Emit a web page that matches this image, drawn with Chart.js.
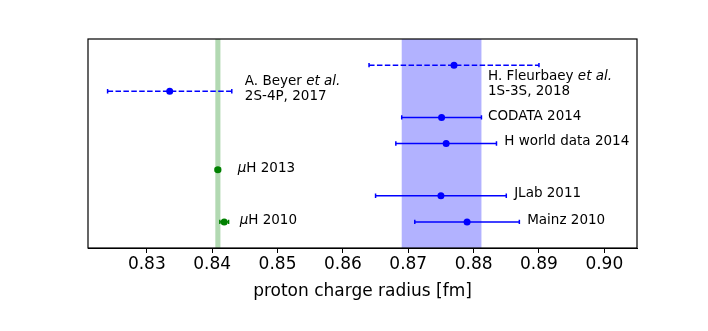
<!DOCTYPE html>
<html>
<head>
<meta charset="utf-8">
<script src="https://cdn.jsdelivr.net/npm/chart.js@4.4.0/dist/chart.umd.min.js"></script>
<style>
html, body { margin: 0; padding: 0; background: #fff; }
</style>
</head>
<body>
<canvas id="radiusChart" width="708" height="331"></canvas>
<script>
// measurements (bottom row first); *...* marks italic text
var names = ['Mainz 2010', '*μ*H 2010', 'JLab 2011', '*μ*H 2013', 'H world data 2014',
  'CODATA 2014', 'A. Beyer *et al.*\n2S-4P, 2017', 'H. Fleurbaey *et al.*\n1S-3S, 2018'];
var radius = [0.879, 0.84184, 0.875, 0.84087, 0.8758, 0.8751, 0.8335, 0.877];
var errors = [0.008, 0.00067, 0.010, 0.00039, 0.0077, 0.0061, 0.0095, 0.013];
var rows = [1, 1, 2, 3, 4, 5, 6, 7];
var muonic = [false, true, false, true, false, false, false, false];
var dashed = [false, false, false, false, false, false, true, true];
// where the text labels sit (data units)
var labelX = [0.8882, 0.8442, 0.8862, 0.8439, 0.8847, 0.8822, 0.845, 0.8822];
var labelY = [1.07, 1.07, 2.07, 3.06, 4.06, 5.05, 6.09, 6.28];
// shaded bands: muonic hydrogen and CODATA 2014
var bandCenter = [0.84087, 0.8751];
var bandHalf = [0.00039, 0.0061];
var tickVals = [0.83, 0.84, 0.85, 0.86, 0.87, 0.88, 0.89, 0.90];

var FONT = "'DejaVu Sans', sans-serif";
var BLUE = '#0000ff', GREEN = '#008000';
var bandColors = ['rgba(0,128,0,0.3)', 'rgba(0,0,255,0.3)'];

function colorOf(i) { return muonic[i] ? GREEN : BLUE; }

function drawRich(ctx, text, x, y) {
  var parts = text.split('*');
  for (var k = 0; k < parts.length; k++) {
    ctx.font = (k % 2 ? 'italic ' : '') + '13.5px ' + FONT;
    ctx.fillText(parts[k], x, y);
    x += ctx.measureText(parts[k]).width;
  }
}

var errorBars = {
  id: 'errorBars',
  beforeDatasetsDraw: function(chart) {
    var ctx = chart.ctx, xs = chart.scales.x, ys = chart.scales.y, a = chart.chartArea;
    ctx.save();
    for (var b = 0; b < bandCenter.length; b++) {
      var l = xs.getPixelForValue(bandCenter[b] - bandHalf[b]);
      var r = xs.getPixelForValue(bandCenter[b] + bandHalf[b]);
      ctx.fillStyle = bandColors[b];
      ctx.fillRect(l, a.top, r - l, a.bottom - a.top);
    }
    ctx.lineWidth = 1.5;
    for (var i = 0; i < radius.length; i++) {
      var y = ys.getPixelForValue(rows[i]);
      var x0 = xs.getPixelForValue(radius[i] - errors[i]);
      var x1 = xs.getPixelForValue(radius[i] + errors[i]);
      ctx.strokeStyle = colorOf(i);
      ctx.setLineDash(dashed[i] ? [5.5, 2.4] : []);
      ctx.beginPath(); ctx.moveTo(x0, y); ctx.lineTo(x1, y); ctx.stroke();
      ctx.setLineDash([]);
      ctx.beginPath();
      ctx.moveTo(x0, y - 2.2); ctx.lineTo(x0, y + 2.2);
      ctx.moveTo(x1, y - 2.2); ctx.lineTo(x1, y + 2.2);
      ctx.stroke();
    }
    ctx.restore();
  },
  afterDatasetsDraw: function(chart) {
    var ctx = chart.ctx, xs = chart.scales.x, ys = chart.scales.y, a = chart.chartArea;
    ctx.save();
    ctx.fillStyle = '#000';
    ctx.textBaseline = 'middle';
    ctx.textAlign = 'left';
    for (var i = 0; i < names.length; i++) {
      var lines = names[i].split('\n');
      var x = xs.getPixelForValue(labelX[i]);
      var y = ys.getPixelForValue(labelY[i]) - (lines.length - 1) * 15 / 2;
      for (var j = 0; j < lines.length; j++) drawRich(ctx, lines[j], x, y + j * 15);
    }
    ctx.strokeStyle = '#000';
    ctx.lineWidth = 1.2;
    ctx.strokeRect(a.left, a.top, a.right - a.left, a.bottom - a.top);
    ctx.restore();
  }
};

var pts = [];
for (var i = 0; i < radius.length; i++) pts.push({x: radius[i], y: rows[i]});

new Chart(document.getElementById('radiusChart').getContext('2d'), {
  type: 'scatter',
  data: {
    datasets: [{
      data: pts,
      pointRadius: 3.5,
      pointBorderWidth: 0,
      pointBackgroundColor: radius.map(function(v, i) { return colorOf(i); }),
      pointBorderColor: radius.map(function(v, i) { return colorOf(i); })
    }]
  },
  options: {
    responsive: false,
    animation: false,
    layout: { padding: { left: 88, right: 71, top: 39, bottom: 0 } },
    plugins: { legend: { display: false }, tooltip: { enabled: false } },
    scales: {
      x: {
        type: 'linear',
        min: 0.821,
        max: 0.905,
        afterBuildTicks: function(s) { s.ticks = tickVals.map(function(v) { return {value: v}; }); },
        afterFit: function(s) { s.height = 83; },
        ticks: {
          autoSkip: false, maxRotation: 0, color: '#000', padding: 1,
          font: { family: FONT, size: 17 },
          callback: function(v) { return v.toFixed(2); }
        },
        grid: { drawOnChartArea: false, drawTicks: true, tickLength: 5, color: '#000' },
        border: { display: true, color: '#000' },
        title: {
          display: true, text: 'proton charge radius [fm]', color: '#000',
          font: { family: FONT, size: 17 }, padding: { top: 0, bottom: 29 }
        }
      },
      y: { display: false, min: 0, max: 8 }
    }
  },
  plugins: [errorBars]
});
</script>
</body>
</html>
